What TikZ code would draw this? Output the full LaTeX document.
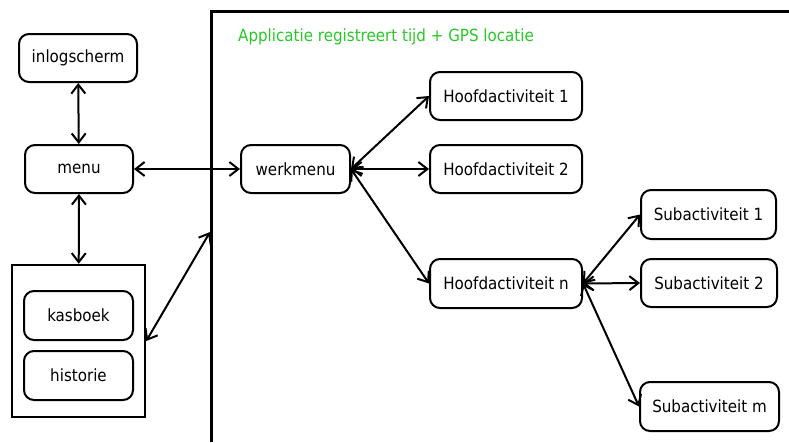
\documentclass[tikz,border=0pt]{standalone}
\usepackage{fontspec}
\setmainfont{DejaVu Sans Condensed}
\usetikzlibrary{arrows.meta}
\definecolor{labelgreen}{RGB}{40,200,40}
\tikzset{
  box/.style={draw, line width=2pt, rounded corners=10pt, inner sep=0pt,
    font=\fontsize{16.8}{20}\selectfont},
  link/.style={line width=2pt,
    {Straight Barb[length=9pt,width=14pt,line width=2pt]}-{Straight Barb[length=9pt,width=14pt,line width=2pt]}},
  frameline/.style={line width=3pt},
}
\begin{document}
\begin{tikzpicture}[x=1pt,y=-1pt]
  \useasboundingbox (0,0) rectangle (789,442);

  % application frame (open to the right and bottom)
  \draw[frameline] (789,11) -- (211,11) -- (211,442);
  \node[anchor=base west, inner sep=0pt, text=labelgreen,
        font=\fontsize{16.8}{20}\selectfont] (title) at (238,41)
        {Applicatie registreert tijd + GPS locatie};

  % left column
  \node[box, minimum width=118pt, minimum height=48pt] (login) at (78,58) {inlogscherm};
  \node[box, minimum width=108pt, minimum height=48pt] (menu) at (79,169) {menu};
  \node[draw, line width=2.5pt, minimum width=133pt, minimum height=152pt, inner sep=0pt]
       (grp) at (78.5,341) {};
  \node[box, minimum width=109pt, minimum height=49pt] (kas) at (78.5,315.5) {kasboek};
  \node[box, minimum width=109pt, minimum height=49pt] (hist) at (78.5,375.5) {historie};

  % work menu and activities
  \node[box, minimum width=109pt, minimum height=48pt] (werk) at (295.5,169) {werkmenu};
  \node[box, minimum width=152pt, minimum height=48pt] (h1) at (506,96) {Hoofdactiviteit 1};
  \node[box, minimum width=152pt, minimum height=48pt] (h2) at (506,169) {Hoofdactiviteit 2};
  \node[box, minimum width=152pt, minimum height=49pt] (hn) at (506,283.5) {Hoofdactiviteit n};
  \node[box, minimum width=135pt, minimum height=49pt] (s1) at (708.5,214.5) {Subactiviteit 1};
  \node[box, minimum width=136pt, minimum height=48pt] (s2) at (709,283) {Subactiviteit 2};
  \node[box, minimum width=139pt, minimum height=49pt] (sm) at (709.5,406.5) {Subactiviteit m};

  \coordinate (edge) at (210,232);

  % connectors
  \draw[link] (login) -- (menu);
  \draw[link] (menu) -- (grp);
  \draw[link] (menu) -- (werk);
  \draw[link] (grp.east) -- (edge);
  \draw[link] (werk.east) -- (h1.west);
  \draw[link] (werk.east) -- (h2.west);
  \draw[link] (werk.east) -- (hn.west);
  \draw[link] (hn.east) -- (s1.west);
  \draw[link] (hn.east) -- (s2.west);
  \draw[link] (hn.east) -- (sm.west);
\end{tikzpicture}
\end{document}
